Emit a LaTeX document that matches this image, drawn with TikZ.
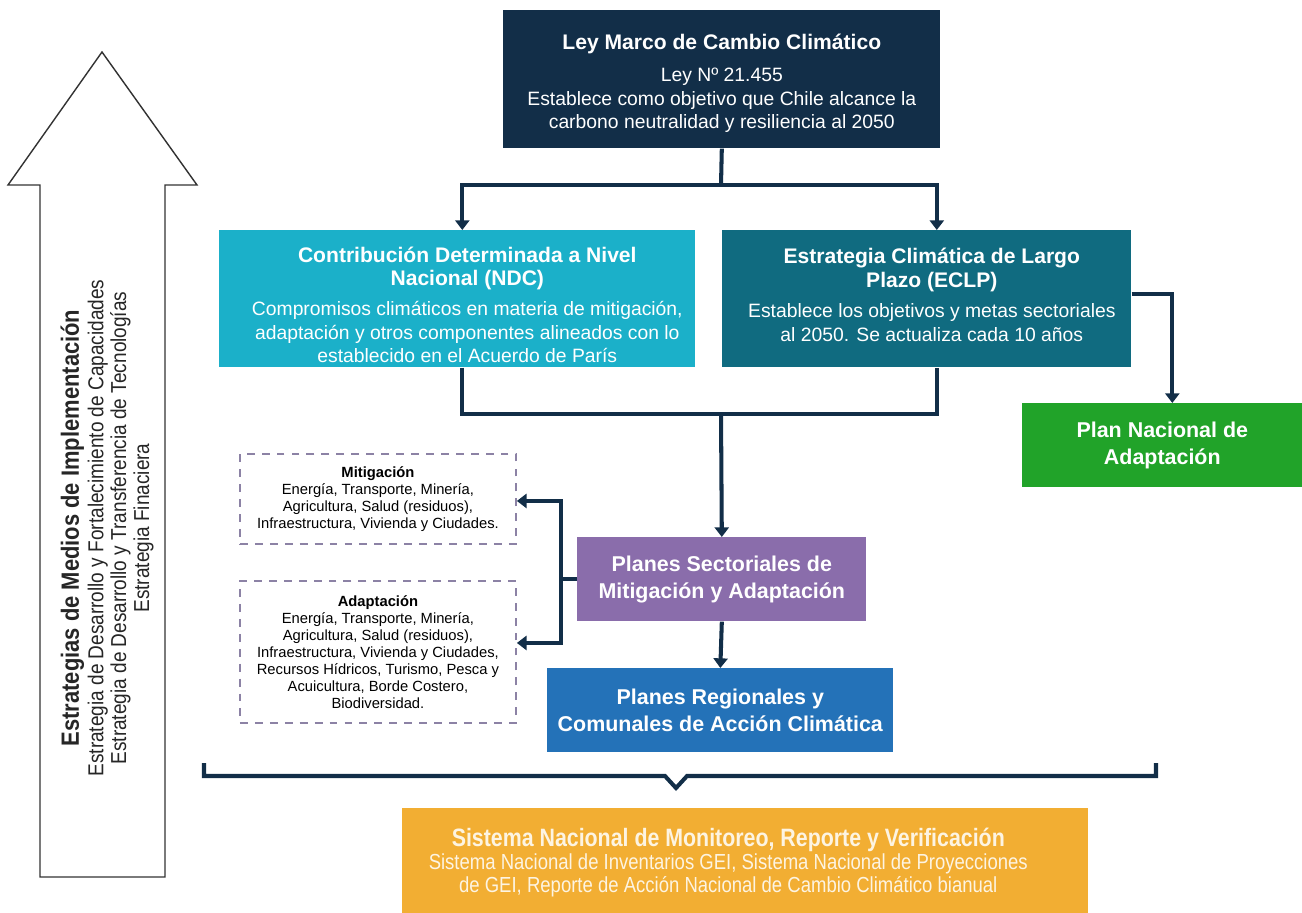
\documentclass[tikz,border=0pt]{standalone}
\usepackage{fontspec}
\setmainfont{Liberation Sans}
\newfontfamily\condfont[FakeStretch=0.85]{Liberation Sans}
\newfontfamily\arrowfont[FakeStretch=0.88]{Liberation Sans}
\usepackage{xcolor}
\usetikzlibrary{arrows.meta, positioning, calc}

\definecolor{navy}{RGB}{18,46,72}
\definecolor{ndcblue}{RGB}{27,176,201}
\definecolor{eclpteal}{RGB}{16,107,128}
\definecolor{plangreen}{RGB}{33,163,41}
\definecolor{secpurple}{RGB}{138,109,171}
\definecolor{regblue}{RGB}{36,114,184}
\definecolor{mrvorange}{RGB}{242,174,51}
\definecolor{dashgray}{RGB}{140,130,165}

\newcommand{\boxtitle}[1]{{\fontsize{12}{13.6}\selectfont\bfseries #1}}

\begin{document}
\begin{tikzpicture}[
    x=0.02cm, y=-0.02cm,
    box/.style={
        rectangle, anchor=north west, text=white,
        align=center, inner sep=2pt,
        font=\fontsize{11}{13.3}\selectfont
    },
    boxtext/.style={
        text=white, align=center, inner sep=0pt,
        font=\fontsize{11}{13.3}\selectfont
    },
    title/.style={font=\fontsize{12.2}{15}\selectfont\bfseries},
    sector/.style={
        rectangle, anchor=north west, draw=dashgray, line width=1.1pt,
        dash pattern=on 4.5pt off 4pt, align=center,
        minimum width=5.52cm,
        font=\fontsize{8.4}{9.7}\selectfont
    },
    link/.style={draw=navy, line width=2.3pt},
    flow/.style={link, -{Triangle[width=8pt,length=5.5pt]}}
]
\useasboundingbox (0,0) rectangle (1302,913);

% 1. Law at the top
\node[box, fill=navy, minimum width=8.74cm, minimum height=2.76cm] (ley) at (503,10) {};
\node[boxtext] (leytext) at ($(ley.center)+(0,4)$) {
    \boxtitle{Ley Marco de Cambio Climático}\\[5pt]
    Ley Nº 21.455\\
    Establece como objetivo que Chile alcance la\\
    carbono neutralidad y resiliencia al 2050
};

% 2. NDC and long term strategy
\node[box, fill=ndcblue, minimum width=9.52cm, minimum height=2.74cm] (ndc) at (219,230) {};
\node[boxtext] (ndctext) at ($(ndc.center)+(10,6)$) {
    \boxtitle{Contribución Determinada a Nivel}\\
    \boxtitle{Nacional (NDC)}\\[4pt]
    Compromisos climáticos en materia de mitigación,\\
    adaptación y otros componentes alineados con lo\\
    establecido en el Acuerdo de París
};
\node[box, fill=eclpteal, minimum width=8.18cm, minimum height=2.74cm] (eclp) at (722,230) {};
\node[boxtext] (eclptext) at ($(eclp.center)+(5,-4)$) {
    \boxtitle{Estrategia Climática de Largo}\\
    \boxtitle{Plazo (ECLP)}\\[4pt]
    Establece los objetivos y metas sectoriales\\
    al 2050. Se actualiza cada 10 años
};

% 3. Plans
\node[box, fill=plangreen, minimum width=5.6cm, minimum height=1.68cm, title]
    (pna) at (1022,403) {Plan Nacional de\\ Adaptación};
\node[box, fill=secpurple, minimum width=5.78cm, minimum height=1.68cm, title]
    (pse) at (577,537) {Planes Sectoriales de\\ Mitigación y Adaptación};
\node[box, fill=regblue, minimum width=6.92cm, minimum height=1.68cm, title]
    (prc) at (547,668) {Planes Regionales y\\ Comunales de Acción Climática};

% 4. Sector lists (dashed)
\node[sector, minimum height=1.8cm] (mit) at (239,453) {
    \textbf{Mitigación}\\
    Energía, Transporte, Minería,\\
    Agricultura, Salud (residuos),\\
    Infraestructura, Vivienda y Ciudades.
};
\node[sector, minimum height=2.84cm] (ada) at (239,580) {
    \textbf{Adaptación}\\
    Energía, Transporte, Minería,\\
    Agricultura, Salud (residuos),\\
    Infraestructura, Vivienda y Ciudades,\\
    Recursos Hídricos, Turismo, Pesca y\\
    Acuicultura, Borde Costero,\\
    Biodiversidad.
};

% 5. MRV system at the bottom
\node[box, fill=mrvorange, minimum width=13.72cm, minimum height=2.1cm] (mrv) at (402,808) {};
\node[boxtext, text=white!86!mrvorange, font=\condfont\fontsize{12.4}{13}\selectfont]
    (mrvtext) at ($(mrv.center)+(-17,2)$) {
    {\fontsize{14.3}{14.5}\selectfont\bfseries Sistema Nacional de Monitoreo, Reporte y Verificación}\\
    Sistema Nacional de Inventarios GEI, Sistema Nacional de Proyecciones\\
    de GEI, Reporte de Acción Nacional de Cambio Climático bianual
};

% 6. Big arrow on the left
\draw[draw=black!80, line width=0.8pt, fill=white]
    (40,877) -- (40,185) -- (8,185) -- (102,52) -- (197,185)
    -- (165,185) -- (165,877) -- cycle;
\node[rotate=90, align=center, text=black!85,
      font=\arrowfont\fontsize{12.3}{13}\selectfont] (medios) at (107,528) {
    {\fontsize{14.2}{13}\selectfont\bfseries Estrategias de Medios de Implementación}\\[1pt]
    Estrategia de Desarrollo y Fortalecimiento de Capacidades\\
    Estrategia de Desarrollo y Transferencia de Tecnologías\\
    Estrategia Finaciera
};

% 7. Connectors
\coordinate (lj) at (721,185);
\draw[link] (ley.south) -- (lj);
\draw[flow] (lj) -| ($(ndc.north)+(5,0)$);
\draw[flow] (lj) -| ($(eclp.north)+(10,0)$);

\coordinate (mj) at (721,413);
\draw[link] ($(ndc.south)+(5,0)$) -- ++(0,46) -| ($(eclp.south)+(10,0)$);
\draw[flow] (mj) -- (pse.north);

\draw[flow] ($(eclp.east)+(0,-5)$) -| ($(pna.north)+(10,0)$);

\coordinate (sj) at (561,579);
\draw[link] (pse.west |- sj) -- (sj);
\draw[flow] (sj) |- ($(mit.east)+(0,2)$);
\draw[flow] (sj) |- ($(ada.east)+(0,-9)$);

\draw[flow] (pse.south) -- (prc.north);

% brace over the MRV system
\draw[link, line cap=butt] (204,763) -- (204,776) -- (665,776) -- (676,788)
    -- (687,776) -- (1156,776) -- (1156,763);

\end{tikzpicture}
\end{document}
